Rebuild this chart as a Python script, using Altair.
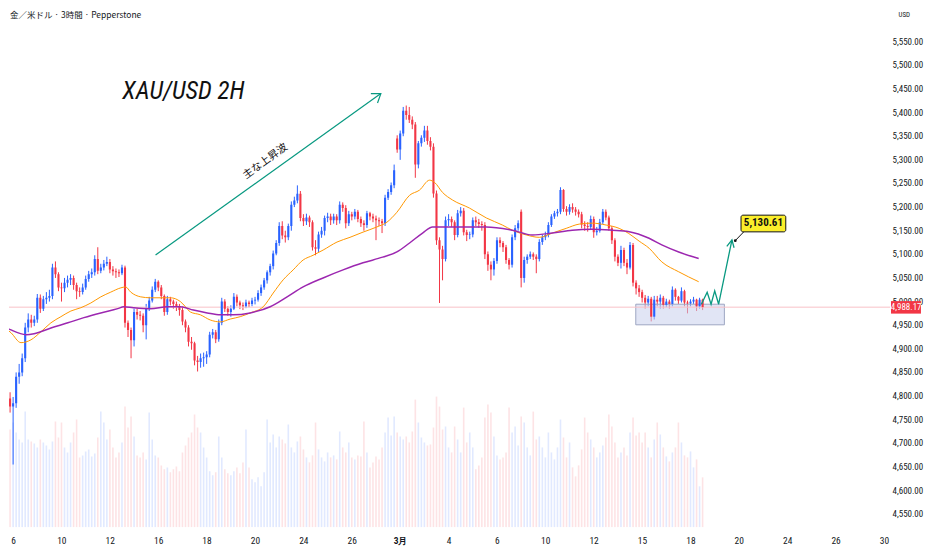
import altair as alt
import pandas as pd

# ---------------- data ----------------
first_open = 4900
gap_open = {131: 5345, 172: 5190}

close = [
    4845, 4830, 4795, 4778, 4785, 4841, 4850, 4880, 4945, 4962,
    4955, 4962, 5008, 4985, 5005, 5008, 5012, 5072, 5058, 5030,
    5028, 5040, 5046, 5050, 5035, 5022, 5020, 5030, 5048, 5058,
    5062, 5090, 5065, 5072, 5080, 5084, 5068, 5064, 5062, 5060,
    5072, 4955, 4940, 4918, 4978, 4972, 4970, 4950, 4985, 5002,
    5025, 5042, 5030, 5012, 4978, 5005, 5000, 4995, 4990, 4982,
    4958, 4945, 4915, 4912, 4875, 4872, 4880, 4882, 4888, 4930,
    4935, 4920, 4955, 5000, 4985, 4978, 4985, 5010, 4998, 4992,
    4990, 4998, 4995, 5002, 5004, 5018, 5030, 5045, 5062, 5075,
    5102, 5124, 5160, 5140, 5136, 5160, 5205, 5214, 5228, 5177,
    5170, 5178, 5168, 5115, 5112, 5142, 5150, 5177, 5180, 5172,
    5180, 5172, 5205, 5198, 5166, 5185, 5180, 5190, 5175, 5166,
    5162, 5187, 5180, 5176, 5172, 5170, 5166, 5220, 5232, 5246,
    5278, 5322, 5356, 5404, 5395, 5385, 5375, 5290, 5335, 5347,
    5362, 5340, 5328, 5229, 5130, 5110, 5090, 5172, 5175, 5168,
    5141, 5187, 5192, 5147, 5141, 5142, 5172, 5168, 5164, 5162,
    5100, 5078, 5068, 5086, 5130, 5124, 5115, 5088, 5078, 5136,
    5155, 5166, 5050, 5088, 5095, 5100, 5095, 5090, 5126, 5136,
    5141, 5162, 5180, 5187, 5190, 5236, 5196, 5190, 5200, 5195,
    5190, 5185, 5163, 5160, 5158, 5175, 5147, 5150, 5168, 5190,
    5178, 5155, 5130, 5095, 5082, 5109, 5082, 5072, 5120, 5040,
    5028, 5020, 5008, 4998, 5006, 4968, 5004, 5000, 5008, 4993,
    5000, 4995, 5025, 5010, 5002, 5022, 4998, 4996, 5000, 5004,
    4990, 5004, 4988.17,
]
high = [
    4925, 4862, 4838, 4808, 4798, 4850, 4868, 4890, 4955, 4975,
    4972, 4970, 5016, 5015, 5012, 5020, 5025, 5080, 5085, 5062,
    5040, 5050, 5055, 5058, 5055, 5040, 5030, 5038, 5055, 5065,
    5070, 5098, 5115, 5080, 5088, 5095, 5090, 5075, 5070, 5068,
    5078, 5076, 4960, 4945, 4985, 4985, 4980, 4975, 4995, 5010,
    5032, 5048, 5045, 5035, 5015, 5012, 5010, 5004, 5000, 4995,
    4990, 4962, 4950, 4925, 4915, 4885, 4890, 4892, 4895, 4936,
    4942, 4940, 4962, 5008, 5005, 4990, 4992, 5018, 5015, 5002,
    4998, 5004, 5002, 5008, 5010, 5024, 5036, 5050, 5066, 5080,
    5108, 5130, 5168, 5170, 5150, 5165, 5212, 5222, 5246, 5234,
    5185, 5186, 5182, 5172, 5130, 5148, 5158, 5182, 5188, 5186,
    5186, 5185, 5212, 5210, 5204, 5192, 5190, 5196, 5194, 5180,
    5172, 5192, 5190, 5186, 5182, 5178, 5175, 5226, 5238, 5252,
    5290, 5352, 5362, 5412, 5415, 5412, 5392, 5380, 5340, 5352,
    5372, 5372, 5348, 5335, 5235, 5136, 5118, 5180, 5185, 5180,
    5172, 5194, 5200, 5198, 5152, 5148, 5178, 5180, 5175, 5170,
    5168, 5106, 5085, 5092, 5136, 5136, 5128, 5120, 5092, 5142,
    5162, 5172, 5195, 5095, 5100, 5106, 5104, 5100, 5132, 5142,
    5148, 5168, 5185, 5192, 5196, 5242, 5238, 5202, 5206, 5208,
    5200, 5195, 5190, 5170, 5168, 5182, 5180, 5158, 5175, 5196,
    5195, 5182, 5160, 5134, 5100, 5118, 5114, 5090, 5126, 5124,
    5045, 5035, 5025, 5014, 5012, 5010, 5012, 5012, 5015, 5012,
    5006, 5004, 5032, 5028, 5012, 5030, 5025, 5002, 5005, 5010,
    5006, 5008, 5006,
]
low = [
    4835, 4815, 4782, 4765, 4655, 4775, 4826, 4842, 4872, 4935,
    4945, 4948, 4955, 4976, 4980, 4995, 5000, 5005, 5050, 5022,
    5000, 5020, 5030, 5035, 5025, 5005, 5010, 5015, 5025, 5042,
    5050, 5055, 5058, 5060, 5066, 5075, 5060, 5055, 5050, 5052,
    5056, 4945, 4925, 4880, 4905, 4962, 4960, 4935, 4920, 4980,
    4998, 5020, 5022, 5005, 4970, 4972, 4992, 4985, 4980, 4970,
    4950, 4935, 4905, 4898, 4865, 4852, 4860, 4862, 4868, 4882,
    4922, 4912, 4915, 4950, 4978, 4970, 4968, 4982, 4990, 4984,
    4982, 4986, 4988, 4990, 4994, 5000, 5012, 5025, 5038, 5055,
    5068, 5098, 5118, 5132, 5125, 5130, 5150, 5200, 5208, 5170,
    5160, 5162, 5158, 5108, 5098, 5105, 5135, 5140, 5168, 5162,
    5165, 5162, 5165, 5190, 5155, 5160, 5172, 5174, 5168, 5158,
    5150, 5156, 5172, 5168, 5130, 5160, 5145, 5160, 5215, 5226,
    5240, 5315, 5300, 5350, 5385, 5378, 5365, 5262, 5282, 5328,
    5338, 5332, 5320, 5220, 5120, 4997, 5045, 5085, 5160, 5158,
    5130, 5136, 5180, 5140, 5128, 5132, 5136, 5160, 5156, 5150,
    5090, 5065, 5045, 5055, 5080, 5115, 5105, 5080, 5068, 5072,
    5130, 5150, 5030, 5040, 5080, 5090, 5088, 5060, 5085, 5120,
    5130, 5136, 5158, 5175, 5180, 5185, 5190, 5182, 5184, 5188,
    5182, 5178, 5155, 5150, 5148, 5152, 5135, 5140, 5146, 5164,
    5172, 5150, 5122, 5085, 5075, 5070, 5075, 5058, 5068, 5032,
    5015, 5010, 4998, 4985, 4990, 4958, 4962, 4990, 4985, 4985,
    4988, 4985, 4990, 5002, 4995, 4998, 4990, 4975, 4990, 4995,
    4980, 4985, 4982,
]
volume = [
    108, 112, 105, 98, 105, 95, 88, 85,
    116, 88, 86, 84, 80, 88, 85, 82,
    78, 86, 106, 90, 105, 80, 75, 85,
    95, 108, 70, 72, 76, 78, 71, 74,
    90, 116, 105, 88, 98, 80, 70, 75,
    85, 121, 100, 111, 91, 72, 70, 75,
    68, 115, 88, 72, 70, 62, 58, 60,
    55, 58, 61, 56, 75, 82, 90, 95,
    113, 100, 95, 80, 70, 56, 52, 55,
    91, 70, 58, 54, 52, 56, 60, 54,
    65, 98, 60, 48, 45, 50, 41, 55,
    108, 85, 93, 80, 91, 88, 84, 103,
    80, 75, 86, 91, 78, 70, 65, 72,
    105, 78, 70, 66, 75, 70, 72, 68,
    96, 80, 75, 85, 70, 68, 72, 71,
    106, 75, 60, 65, 71, 68, 80, 95,
    110, 92, 111, 95, 91, 88, 91, 85,
    96, 128, 105, 90, 85, 82, 83, 100,
    131, 121, 98, 101, 80, 75, 101, 88,
    75, 120, 85, 95, 80, 58, 62, 70,
    110, 123, 115, 91, 72, 68, 70, 75,
    120, 95, 101, 82, 111, 105, 80, 72,
    116, 88, 91, 80, 70, 95, 75, 68,
    80, 108, 90, 70, 85, 60, 51, 62,
    78, 110, 95, 88, 80, 70, 75, 82,
    90, 113, 101, 85, 70, 75, 80, 72,
    95, 110, 92, 95, 85, 95, 80, 70,
    88, 105, 93, 80, 71, 66, 75, 80,
    105, 85, 72, 70, 76, 60, 68, 41,
    50,
]

# moving averages (bar position, price)
ma_fast_x = [-0.5, 2.8, 6.1, 9.4, 12.7, 16.0, 19.3, 22.6, 25.9, 29.2, 32.5, 35.8, 39.1, 40.7,
             42.4, 45.7, 48.9, 52.2, 55.5, 58.8, 60.5, 62.1, 65.4, 68.7, 72.0, 75.3, 78.6,
             81.9, 86.2, 89.5, 92.8, 96.1, 99.4, 102.7, 106.0, 110.6, 114.9, 119.2, 123.8,
             127.1, 130.4, 134.6, 137.9, 141.2, 142.9, 145.5, 148.8, 154.4, 160.0, 165.3,
             168.6, 173.2, 177.5, 181.8, 186.4, 190.7, 195.0, 199.6, 203.9, 207.1, 210.5,
             213.8, 218.0, 223.6, 230.2]
ma_fast_p = [4951, 4934, 4913, 4919, 4936, 4955, 4968, 4980, 4987, 4997, 5010, 5020, 5029, 5031,
             5020, 5010, 5008, 5008, 5008, 5000, 4989, 4978, 4972, 4961, 4957, 4963, 4968,
             4976, 4989, 5018, 5046, 5067, 5088, 5098, 5109, 5126, 5136, 5147, 5158,
             5168, 5189, 5225, 5236, 5257, 5252, 5231, 5215, 5198, 5177, 5162,
             5151, 5141, 5136, 5145, 5155, 5164, 5166, 5162, 5155, 5144, 5128,
             5113, 5084, 5063, 5042]
ma_slow_x = [-0.5, 2.8, 7.8, 10.4, 16.0, 21.6, 26.9, 32.5, 38.1, 40.1, 43.3, 48.9, 54.6, 58.8,
             63.1, 67.7, 72.0, 76.3, 81.9, 88.5, 94.1, 99.4, 106.0, 112.6, 119.2, 125.7,
             130.4, 134.6, 138.9, 142.2, 145.5, 148.8, 160.0, 168.6, 175.2, 181.8, 188.4,
             195.0, 201.6, 207.2, 213.8, 218.0, 223.6, 230.2]
ma_slow_p = [4951, 4940, 4930, 4932, 4944, 4955, 4966, 4976, 4985, 4989, 4987, 4985, 4989, 4989,
             4982, 4976, 4972, 4972, 4976, 4989, 5010, 5031, 5050, 5067, 5082, 5094,
             5105, 5124, 5145, 5158, 5158, 5158, 5158, 5151, 5141, 5145, 5151,
             5153, 5151, 5148, 5134, 5120, 5105, 5091]

day_labels = ['6', '10', '12', '16', '18', '20', '24', '26', '3月', '4', '6', '10', '12',
              '15', '18', '20', '24', '26', '30']
day_pos = [3.46, 19.46, 35.46, 51.46, 67.46, 83.46, 99.46, 115.46, 131.46, 147.46, 163.46,
           179.46, 195.46, 211.46, 227.46, 243.46, 259.46, 275.46, 291.46]
price_ticks = list(range(4550, 5551, 50))
last_price = 4988.17
target_price = 5130.61

# annotation geometry in data units (bar position, price)
trend_x = [50.6, 125.1, 121.8, 125.1, 124.0]
trend_p = [5098.5, 5440.3, 5440.3, 5440.3, 5420.4]
trend_seg = ['line', 'line', 'head', 'head', 'head']
zig_x = [231.1, 233.0, 234.3, 235.5, 236.8, 241.2, 239.5, 241.2, 241.9]
zig_p = [4994.4, 5019.8, 4994.4, 5022.5, 4994.4, target_price, 5117.0, target_price, 5114.0]
zig_seg = ['line'] * 6 + ['head'] * 3
range_box = {'x1': 209.4, 'x2': 238.7, 'p1': 4950.8, 'p2': 4994.4}
callout_box = {'x1': 244.2, 'x2': 259.0, 'p1': 5147.6, 'p2': 5182.9}

# ---------------- frames ----------------
n = min(len(close), len(high), len(low), len(volume))
rows = []
prev = first_open
for i in range(n):
    o = gap_open.get(i, prev)
    c = close[i]
    rows.append({'x': i - 0.5, 'o': o, 'c': c, 'h': high[i], 'l': low[i],
                 'v': volume[i], 'd': 'up' if c >= o else 'down'})
    prev = c
df = pd.DataFrame(rows)

NARROW = "Liberation Sans Narrow, Arial Narrow, Roboto Condensed, DejaVu Sans Condensed, Liberation Sans, sans-serif"
CJK = "Liberation Sans Narrow, Noto Sans CJK JP, sans-serif"
UP, DOWN, GREEN, INK = '#2962ff', '#f23645', '#089981', '#131722'

XMAX = 293.5          # right edge of the plotting pane (bar units)
LABEL_X = 294.3       # where the price-scale labels start
xs = alt.Scale(domain=[2.14, XMAX], nice=False, zero=False, padding=0)
ys = alt.Scale(domain=[4522.4, 5619.6], nice=False, zero=False, padding=0)
col = alt.Color('d:N', scale=alt.Scale(domain=['up', 'down'], range=[UP, DOWN]), legend=None)

label_expr = "[" + ",".join("'%s'" % s for s in day_labels) + "][round((datum.value-3.46)/16)]"
x_axis = alt.Axis(values=day_pos, labelExpr=label_expr, title=None, labelPadding=8,
                  labelOverlap=False, labelFlush=False,
                  labelFontWeight={"condition": {"test": "datum.value > 131 && datum.value < 132",
                                                 "value": "bold"}, "value": "normal"})

X = lambda f: alt.X(f, scale=xs)
Y = lambda f: alt.Y(f, scale=ys)

vol = alt.Chart(df).mark_bar(size=1.6, opacity=0.14, clip=True).encode(
    x=X('x:Q'), y=alt.Y('v:Q', scale=alt.Scale(domain=[0, 520], nice=False, padding=0), axis=None),
    color=col)

# the wick layer carries the time axis; the price scale is drawn as text on the right
wicks = alt.Chart(df).mark_rule(strokeWidth=1, clip=True).encode(
    x=alt.X('x:Q', scale=xs, axis=x_axis), y=alt.Y('l:Q', scale=ys, axis=None), y2='h:Q', color=col)

box = alt.Chart(pd.DataFrame([range_box])).mark_rect(
    fill='#c9d0ec', fillOpacity=0.55, stroke='#9ea6c2', strokeWidth=1).encode(
    x=X('x1:Q'), x2='x2:Q', y=Y('p1:Q'), y2='p2:Q')

pline = alt.Chart(pd.DataFrame({'p': [last_price]})).mark_rule(
    color='#f8c1c7', strokeWidth=1).encode(y=Y('p:Q'))

bodies = alt.Chart(df).mark_bar(size=2.1, clip=True).encode(
    x=X('x:Q'), y=Y('o:Q'), y2='c:Q', color=col)

ma_fast = alt.Chart(pd.DataFrame({'x': ma_fast_x, 'p': ma_fast_p})).mark_line(
    color='#ff9800', strokeWidth=1, interpolate='monotone', clip=True).encode(x=X('x:Q'), y=Y('p:Q'))
ma_slow = alt.Chart(pd.DataFrame({'x': ma_slow_x, 'p': ma_slow_p})).mark_line(
    color='#9c27b0', strokeWidth=1.5, interpolate='monotone', clip=True).encode(x=X('x:Q'), y=Y('p:Q'))

def polyline(xv, pv, seg, width):
    d = pd.DataFrame({'x': xv, 'p': pv, 's': seg, 'k': list(range(len(xv)))})
    return alt.Chart(d).mark_line(color=GREEN, strokeWidth=width).encode(
        x=X('x:Q'), y=Y('p:Q'), detail='s:N', order='k:Q')

trend = polyline(trend_x, trend_p, trend_seg, 1.2)
zig = polyline(zig_x, zig_p, zig_seg, 1.3)

cbox = alt.Chart(pd.DataFrame([callout_box])).mark_rect(
    fill='#fbee2a', stroke='#111111', strokeWidth=1, cornerRadius=2).encode(
    x=X('x1:Q'), x2='x2:Q', y=Y('p1:Q'), y2='p2:Q')
cptr = alt.Chart(pd.DataFrame({'x': [245.1], 'p': [5147.6], 'x2': [242.3], 'p2': [5129.0]})).mark_rule(
    color='#111111', strokeWidth=1).encode(x=X('x:Q'), y=Y('p:Q'), x2='x2:Q', y2='p2:Q')
cdot = alt.Chart(pd.DataFrame({'x': [242.3], 'p': [5129.0]})).mark_point(
    filled=True, color='#111111', size=8, opacity=1).encode(x=X('x:Q'), y=Y('p:Q'))
ctext = alt.Chart(pd.DataFrame({'x': [251.6], 'p': [5165.3], 't': ['5,130.61']})).mark_text(
    font=NARROW, fontSize=11, fontWeight='bold', color='#111111').encode(
    x=X('x:Q'), y=Y('p:Q'), text='t:N')

# price scale labels
ylabels = alt.Chart(pd.DataFrame({'x': [LABEL_X] * len(price_ticks), 'p': price_ticks})).mark_text(
    font=NARROW, fontSize=9, align='left', color=INK).encode(
    x=X('x:Q'), y=Y('p:Q'), text=alt.Text('p:Q', format=',.2f'))

tag = alt.Chart(pd.DataFrame({'x1': [293.8], 'x2': [303.7], 'p1': [4974.5], 'p2': [5001.0]})).mark_rect(
    fill=DOWN).encode(x=X('x1:Q'), x2='x2:Q', y=Y('p1:Q'), y2='p2:Q')
tagtext = alt.Chart(pd.DataFrame({'x': [298.8], 'p': [last_price], 't': ['4,988.17']})).mark_text(
    font=NARROW, fontSize=9, color='white').encode(x=X('x:Q'), y=Y('p:Q'), text='t:N')

title = alt.Chart(pd.DataFrame({'x': [59.8], 'p': [5446.6], 't': ['XAU/USD 2H']})).mark_text(
    font=NARROW, fontSize=25, fontStyle='italic', color='#111111').encode(
    x=X('x:Q'), y=Y('p:Q'), text='t:N')
wave = alt.Chart(pd.DataFrame({'x': [86.9], 'p': [5296.8], 't': ['主な上昇波']})).mark_text(
    font="Noto Sans CJK JP, sans-serif", fontSize=10.5, angle=324, color='#111111').encode(
    x=X('x:Q'), y=Y('p:Q'), text='t:N')
header = alt.Chart(pd.DataFrame({'x': [2.5], 'p': [5606.0], 't': ['金／米ドル · 3時間 · Pepperstone']})).mark_text(
    font=CJK, fontSize=8.5, align='left', color=INK).encode(
    x=X('x:Q'), y=Y('p:Q'), text='t:N')
usd = alt.Chart(pd.DataFrame({'x': [LABEL_X + 2.0], 'p': [5607.0], 't': ['USD']})).mark_text(
    font=NARROW, fontSize=7, align='left', color=INK).encode(x=X('x:Q'), y=Y('p:Q'), text='t:N')

price_layer = alt.layer(wicks, box, pline, bodies, ma_fast, ma_slow, trend, zig,
                        cptr, cdot, cbox, ctext, ylabels, tag, tagtext, title, wave, header, usd)

chart = alt.layer(vol, price_layer).resolve_scale(y='independent').properties(
    width=884, height=520, padding={'left': 0, 'top': 0, 'right': 0, 'bottom': 0}
).configure_view(stroke=None).configure_axis(
    labelFont=NARROW, labelFontSize=9.5, labelColor=INK,
    ticks=False, domain=False, grid=False)

chart.save("out.html", embed_options={"renderer": "svg", "actions": False})
